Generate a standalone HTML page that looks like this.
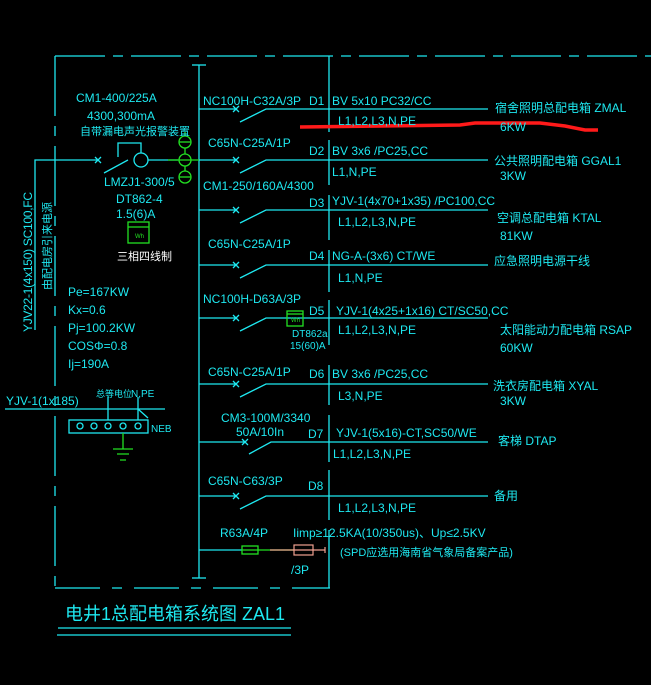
<!DOCTYPE html>
<html><head><meta charset="utf-8"><style>
html,body{margin:0;padding:0;background:#000;}
svg{display:block}
text{font-family:"Liberation Sans","Noto Sans CJK SC",sans-serif;fill:#1ee8f0;font-size:12px}
</style></head><body>
<svg width="651" height="685" viewBox="0 0 651 685" xmlns="http://www.w3.org/2000/svg">
<g stroke="#1ee8f0" stroke-width="1.3" fill="none">
<line x1="55" y1="56" x2="651" y2="56" stroke-dasharray="50,8,10,8"/>
<line x1="55" y1="56" x2="55" y2="588" stroke-dasharray="60,10,10,10"/>
<line x1="55" y1="588" x2="330" y2="588" stroke-dasharray="45,12,10,12"/>
<line x1="199" y1="65" x2="199" y2="578"/>
<line x1="192" y1="65" x2="206" y2="65"/>
<line x1="192" y1="578" x2="206" y2="578"/>
<path d="M329 56V132M329 140V185M329 195V240M329 250V292M329 300V345M329 365V405M329 415V462M329 470V520M329 530V588"/>
<path d="M199 109H236M233 106l6 6M239 106l-6 6M240 122L266 109H488"/>
<path d="M199 160H236M233 157l6 6M239 157l-6 6M240 173L266 160H488"/>
<path d="M199 210H236M233 207l6 6M239 207l-6 6M240 223L266 210H488"/>
<path d="M199 265H236M233 262l6 6M239 262l-6 6M240 278L266 265H488"/>
<path d="M199 318H236M233 315l6 6M239 315l-6 6M240 331L266 318H488"/>
<path d="M199 384H236M233 381l6 6M239 381l-6 6M240 397L266 384H488"/>
<path d="M199 442H245M242 439l6 6M248 439l-6 6M249 454L271 442H488"/>
<path d="M199 496H236M233 493l6 6M239 493l-6 6M240 509L266 496H488"/>
<path d="M199 550H242"/>
<path d="M35 330V160H98M95 157l6 6M101 157l-6 6M104 173L128 160M148 160H178"/>
<circle cx="141" cy="160" r="7"/>
<path d="M118 157V143H141V153"/>
<path d="M5 409H165M138 409l10 9M138 397V420M108 397V420"/>
<rect x="69" y="420" width="79" height="13"/>
<circle cx="80" cy="426" r="3"/><circle cx="94" cy="426" r="3"/><circle cx="108" cy="426" r="3"/><circle cx="123" cy="426" r="3"/><circle cx="138" cy="426" r="3"/>
</g>
<g stroke="#22e022" stroke-width="1.3" fill="none">
<line x1="168" y1="160" x2="199" y2="160"/>
<circle cx="185" cy="142" r="6"/><circle cx="185" cy="160" r="6"/><circle cx="185" cy="177" r="6"/>
<line x1="179" y1="142" x2="191" y2="142"/><line x1="179" y1="177" x2="191" y2="177"/>
<path d="M185 132v4M185 148v6M185 166v5"/>
<rect x="128" y="222" width="21" height="21"/><line x1="128" y1="227" x2="149" y2="227"/>
<rect x="287" y="311" width="16" height="15"/><line x1="287" y1="314" x2="303" y2="314"/>
<path d="M123 433V449M113 449H133M117 454H129M120 460H126"/>
<path d="M242 550H294"/><rect x="242" y="546" width="16" height="8"/>
</g>
<text x="135" y="238" style="font-size:6px;fill:#22e022">Wh</text>
<text x="291" y="322" style="font-size:6px;fill:#22e022">Wh</text>
<g stroke="#f0a090" stroke-width="1.2" fill="none">
<path d="M270 550H325M325 547V553"/><rect x="294" y="545" width="19" height="10"/>
</g>
<path d="M300 127L460 125L475 123L540 123L565 126L585 130L598 130" stroke="#ff1a1a" stroke-width="3.5" fill="none"/>
<text x="76" y="102">CM1-400/225A</text>
<text x="87" y="120">4300,300mA</text>
<text x="80" y="135" style="font-size:11px">自带漏电声光报警装置</text>
<text x="104" y="186">LMZJ1-300/5</text>
<text x="116" y="203">DT862-4</text>
<text x="116" y="218">1.5(6)A</text>
<text x="117" y="260" style="fill:#fff;font-size:11px">三相四线制</text>
<text transform="translate(32,332) rotate(-90)" textLength="140">YJV22-1(4x150) SC100,FC</text>
<text transform="translate(51,290) rotate(-90)" style="font-size:11px">由配电房引来电源</text>
<text x="68" y="296">Pe=167KW</text>
<text x="68" y="314">Kx=0.6</text>
<text x="68" y="332">Pj=100.2KW</text>
<text x="68" y="350">COSΦ=0.8</text>
<text x="68" y="368">Ij=190A</text>
<text x="6" y="405">YJV-1(1x185)</text>
<text x="96" y="397" style="font-size:9px">总等电位</text>
<text x="131" y="397" style="font-size:10px">N,PE</text>
<text x="151" y="432" style="font-size:10px">NEB</text>
<text x="203" y="105">NC100H-C32A/3P</text>
<text x="208" y="147">C65N-C25A/1P</text>
<text x="203" y="190">CM1-250/160A/4300</text>
<text x="208" y="248">C65N-C25A/1P</text>
<text x="203" y="303">NC100H-D63A/3P</text>
<text x="292" y="337" style="font-size:10px">DT862a</text>
<text x="290" y="349" style="font-size:10px">15(60)A</text>
<text x="208" y="376">C65N-C25A/1P</text>
<text x="221" y="422">CM3-100M/3340</text>
<text x="236" y="436">50A/10In</text>
<text x="208" y="485">C65N-C63/3P</text>
<text x="220" y="537">R63A/4P</text>
<text x="309" y="105">D1</text><text x="309" y="155">D2</text><text x="309" y="207">D3</text><text x="309" y="260">D4</text>
<text x="309" y="315">D5</text><text x="309" y="378">D6</text><text x="308" y="438">D7</text><text x="308" y="490">D8</text>
<text x="332" y="105">BV 5x10 PC32/CC</text>
<text x="338" y="125">L1,L2,L3,N,PE</text>
<text x="332" y="155">BV 3x6 /PC25,CC</text>
<text x="332" y="176">L1,N,PE</text>
<text x="332" y="205">YJV-1(4x70+1x35) /PC100,CC</text>
<text x="338" y="226">L1,L2,L3,N,PE</text>
<text x="332" y="260">NG-A-(3x6) CT/WE</text>
<text x="338" y="282">L1,N,PE</text>
<text x="336" y="315">YJV-1(4x25+1x16) CT/SC50,CC</text>
<text x="338" y="334">L1,L2,L3,N,PE</text>
<text x="332" y="378">BV 3x6 /PC25,CC</text>
<text x="338" y="400">L3,N,PE</text>
<text x="336" y="437">YJV-1(5x16)-CT,SC50/WE</text>
<text x="333" y="458">L1,L2,L3,N,PE</text>
<text x="338" y="512">L1,L2,L3,N,PE</text>
<text x="293" y="537">Iimp≥12.5KA(10/350us)、Up≤2.5KV</text>
<text x="340" y="556" style="font-size:11px">(SPD应选用海南省气象局备案产品)</text>
<text x="291" y="574">/3P</text>
<text x="495" y="112">宿舍照明总配电箱 ZMAL</text>
<text x="500" y="131">6KW</text>
<text x="494" y="165">公共照明配电箱 GGAL1</text>
<text x="500" y="180">3KW</text>
<text x="497" y="222">空调总配电箱 KTAL</text>
<text x="500" y="240">81KW</text>
<text x="494" y="265">应急照明电源干线</text>
<text x="500" y="334">太阳能动力配电箱 RSAP</text>
<text x="500" y="352">60KW</text>
<text x="493" y="390">洗衣房配电箱 XYAL</text>
<text x="500" y="405">3KW</text>
<text x="498" y="445">客梯 DTAP</text>
<text x="494" y="500">备用</text>
<text x="65" y="620" style="font-size:18px">电井1总配电箱系统图 ZAL1</text>
<g stroke="#1ee8f0" stroke-width="1.3"><line x1="58" y1="628" x2="291" y2="628"/><line x1="57" y1="635" x2="291" y2="635"/></g>
</svg>
</body></html>
